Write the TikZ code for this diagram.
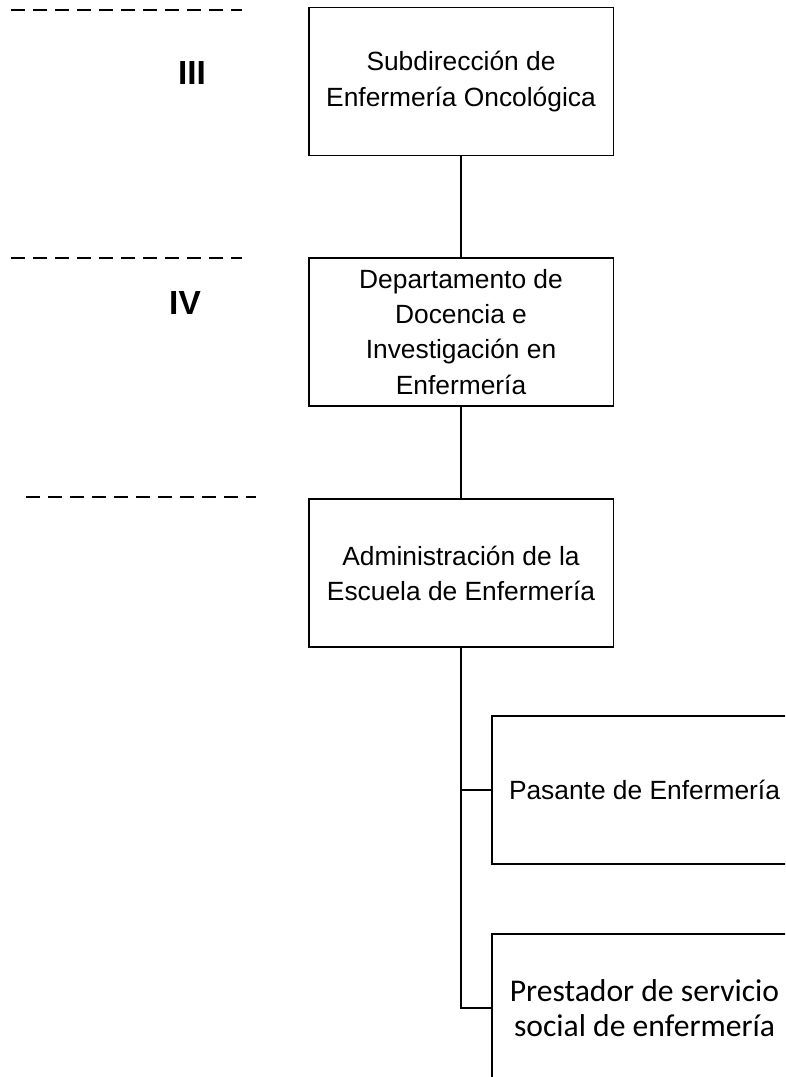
\documentclass[tikz,border=0pt]{standalone}
\usepackage{fontspec}
\setmainfont{Liberation Sans}
\newfontfamily\carlito{Carlito}
\tikzset{
  unitbox/.style={draw, line width=1.1pt, minimum width=6.1cm, minimum height=2.96cm,
    inner sep=0pt, align=center, font=\fontsize{15}{20}\selectfont},
  levelmark/.style={font=\bfseries\fontsize{19}{21}\selectfont},
  levelline/.style={line width=0.8pt, dash pattern=on 0.28cm off 0.16cm},
}
\begin{document}
\begin{tikzpicture}[x=0.02cm,y=-0.02cm]
\clip (0,0) rectangle (785,1077);

% level separators
\draw[levelline] (11,10) -- (242,10);
\draw[levelline] (11,258) -- (242,258);
\draw[levelline] (26,497) -- (256,497);
\node[levelmark] (III) at (192,73) {III};
\node[levelmark] (IV) at (185,303) {IV};

% units
\node[unitbox] (sub) at (461,81.5) {Subdirección de\\Enfermería Oncológica};
\node[unitbox] (dep) at (461,332) {Departamento de\\Docencia e\\Investigación en\\Enfermería};
\node[unitbox] (adm) at (461,573) {Administración de la\\Escuela de Enfermería};
\node[unitbox] (pas) at (644.5,790) {Pasante de Enfermería};
\node[unitbox, font=\carlito\fontsize{18}{20}\selectfont] (pre) at (644.5,1008) {Prestador de servicio\\social de enfermería};

\draw[line width=1.1pt] (sub) -- (dep);
\draw[line width=1.1pt] (dep) -- (adm);
\draw[line width=1.1pt] (adm.south) |- (pas.west);
\draw[line width=1.1pt] (adm.south) |- (pre.west);
\end{tikzpicture}
\end{document}
